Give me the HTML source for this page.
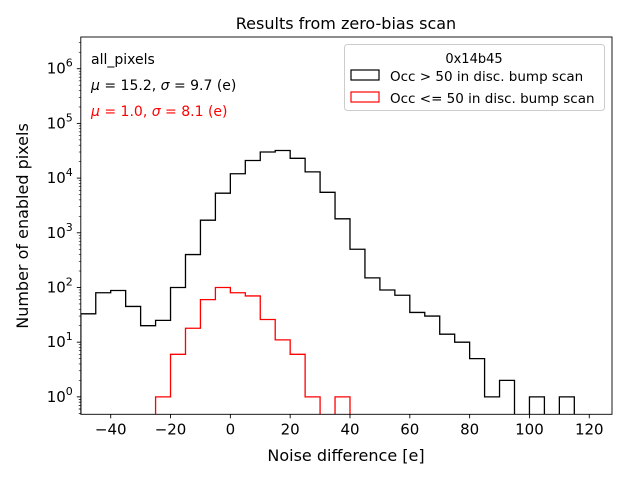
<!DOCTYPE html>
<html><head><meta charset="utf-8"><style>
body{margin:0;background:#fff;font-family:"Liberation Sans","DejaVu Sans",sans-serif}
</style></head><body>
<svg id="chart" width="640" height="480" xmlns="http://www.w3.org/2000/svg" font-family="DejaVu Sans, Liberation Sans, sans-serif"></svg>
<script>
const binEdgesStart = -50;
const binWidth = 5;
const blackCounts = [33,80,88,45,20,25,100,400,1700,5300,12000,21000,30000,32000,23000,13000,5500,1800,500,150,90,72,35,30,14,10,5,1,2,0,1,0,1,0];
const redStart = -25;
const redCounts = [1,6,18,60,100,80,70,26,11,6,1,0,1];
const xTicks = [-40,-20,0,20,40,60,80,100,120];
const yTickExps = [0,1,2,3,4,5,6];

const L=80.8,R=612,T=37,B=414.3;
const xMin=-50,xMax=127.6, yMinL=Math.log10(0.48), yMaxL=6.58;
const X=v=>L+(v-xMin)/(xMax-xMin)*(R-L);
const Y=v=>B-(Math.log10(v)-yMinL)/(yMaxL-yMinL)*(B-T);
const svg=document.getElementById('chart');
const NS='http://www.w3.org/2000/svg';
function mk(tag,attrs,parent){const e=document.createElementNS(NS,tag);for(const k in attrs)e.setAttribute(k,attrs[k]);(parent||svg).appendChild(e);return e;}

const clip=mk('clipPath',{id:'pc'});mk('rect',{x:L,y:T,width:R-L,height:B-T},clip);

function stepPath(start,counts){
  let d='',pen=false;
  for(let i=0;i<counts.length;i++){
    const x0=X(start+i*binWidth),x1=X(start+(i+1)*binWidth),c=counts[i];
    if(c>0){
      const y=Y(c);
      if(!pen){d+=`M${x0},${B+5}L${x0},${y}`;pen=true;} else d+=`L${x0},${y}`;
      d+=`L${x1},${y}`;
    } else if(pen){d+=`L${x0},${B+5}`;pen=false;}
  }
  if(pen){d+=`L${X(start+counts.length*binWidth)},${B+5}`;}
  return d;
}
const hb=mk('path',{d:stepPath(binEdgesStart,blackCounts),fill:'none',stroke:'#000','stroke-width':1.3,'clip-path':'url(#pc)'});


const hr=mk('path',{d:stepPath(redStart,redCounts),fill:'none',stroke:'#f00','stroke-width':1.3,'clip-path':'url(#pc)'});



const fr=mk('rect',{x:L,y:T,width:R-L,height:B-T,fill:'none',stroke:'#000','stroke-width':0.9});



xTicks.forEach(t=>{
  const x=X(t);
  mk('line',{x1:x,x2:x,y1:B,y2:B+4,stroke:'#000','stroke-width':0.9});
  const tx=mk('text',{x:x,y:B+20,'text-anchor':'middle','font-size':15});
  tx.textContent=(t<0?'\u2212'+(-t):t);
  
  
});
yTickExps.forEach(e=>{
  const y=Y(Math.pow(10,e));
  mk('line',{x1:L-4,x2:L,y1:y,y2:y,stroke:'#000','stroke-width':0.9});
  for(let m=2;m<=9;m++){const v=m*Math.pow(10,e-1);const yy=Y(v);if(yy<=B&&yy>=T)mk('line',{x1:L-2,x2:L,y1:yy,y2:yy,stroke:'#000','stroke-width':0.6});}
  const tx=mk('text',{x:L-8,y:y+5,'text-anchor':'end','font-size':15});
  tx.innerHTML='10<tspan dy="-7" font-size="11">'+e+'</tspan>';
  
  
});
for(let m=2;m<=9;m++){const yy=Y(m*1e6);if(yy>=T)mk('line',{x1:L-2,x2:L,y1:yy,y2:yy,stroke:'#000','stroke-width':0.6});}
for(let m=5;m<=9;m++){const yy=Y(m*0.1);if(yy<=B)mk('line',{x1:L-2,x2:L,y1:yy,y2:yy,stroke:'#000','stroke-width':0.6});}

function txt(s,attrs,name){const t=mk('text',attrs);t.textContent=s;return t;}
txt('Results from zero-bias scan',{x:346,y:29,'text-anchor':'middle','font-size':16},'chart-title');
txt('Noise difference [e]',{x:346,y:461,'text-anchor':'middle','font-size':16},'x-axis-title');
txt('Number of enabled pixels',{x:0,y:0,'text-anchor':'middle','font-size':16,transform:'translate(28,226) rotate(-90)'},'y-axis-title');
txt('all_pixels',{x:91,y:64,'font-size':14},'annotation-all-pixels');
const a1=mk('text',{x:91,y:90,'font-size':14});a1.innerHTML='<tspan font-style="italic">μ</tspan> = 15.2, <tspan font-style="italic">σ</tspan> = 9.7 (e)';

const a2=mk('text',{x:91,y:116,'font-size':14,fill:'#f00'});a2.innerHTML='<tspan font-style="italic">μ</tspan> = 1.0, <tspan font-style="italic">σ</tspan> = 8.1 (e)';


const lg=mk('g',{});
mk('rect',{x:344.5,y:44.5,width:260,height:66,rx:3,fill:'#fff',stroke:'#ccc','stroke-width':1},lg);
const lt=mk('text',{x:474,y:63,'text-anchor':'middle','font-size':13},lg);lt.textContent='0x14b45';
mk('rect',{x:351,y:70,width:28,height:10,fill:'none',stroke:'#000','stroke-width':1.2},lg);
const l1=mk('text',{x:390,y:81,'font-size':13.5},lg);l1.textContent='Occ > 50 in disc. bump scan';
mk('rect',{x:351,y:92,width:28,height:10,fill:'none',stroke:'#f00','stroke-width':1.2},lg);
const l2=mk('text',{x:390,y:103,'font-size':13.5},lg);l2.textContent='Occ <= 50 in disc. bump scan';
</script>
</body></html>
